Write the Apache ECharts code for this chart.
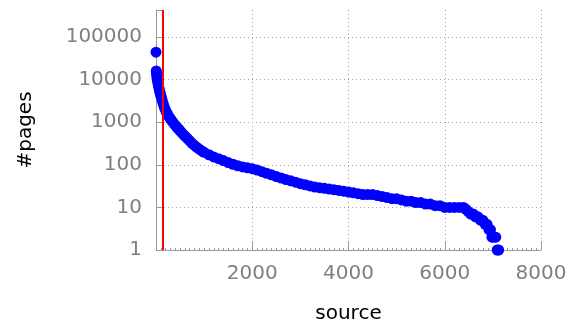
<!DOCTYPE html>
<html>
<head>
<meta charset="utf-8">
<script src="https://cdn.jsdelivr.net/npm/echarts@6/dist/echarts.min.js"></script>
<style>
  html, body { margin: 0; padding: 0; background: #fff; }
  #main { width: 580px; height: 323px; }
</style>
</head>
<body>
<div id="main"></div>
<script>
// source rank (x) and page count (y)
const sources = [
  0, 5, 10, 15, 20, 25, 30, 40, 50, 60, 70, 80, 90, 100, 115, 130, 150, 170, 190, 210,
  230, 250, 275, 300, 325, 350, 380, 410, 440, 470, 500, 540, 580, 620, 660, 700, 750, 800, 850, 900,
  950, 1000, 1100, 1200, 1300, 1400, 1500, 1600, 1700, 1800, 1900, 2000, 2100, 2200, 2300, 2400, 2500, 2600, 2700, 2800,
  2900, 3000, 3100, 3200, 3300, 3400, 3500, 3600, 3700, 3800, 3900, 4000, 4100, 4200, 4300, 4400, 4500, 4600, 4700, 4800,
  4900, 5000, 5100, 5200, 5300, 5400, 5500, 5600, 5700, 5800, 5900, 6000, 6100, 6200, 6300, 6390, 6440, 6490, 6540, 6590,
  6640, 6690, 6740, 6790, 6840, 6880, 6920, 6950, 6980, 7020, 7060, 7090, 7120
];
const pages = [
  44000, 16000, 14500, 13000, 11500, 10200, 9500, 8300, 7300, 6400, 5700, 5100, 4600, 4200, 3700, 3200, 2700, 2300, 2000, 1780,
  1600, 1450, 1310, 1190, 1090, 1000, 900, 820, 750, 690, 630, 560, 500, 450, 405, 365, 320, 285, 255, 232,
  212, 196, 172, 153, 139, 126, 113, 103, 95, 89, 85, 81, 75, 69, 63, 58, 53, 49, 45, 42,
  39, 36, 34, 32, 30, 29, 28, 27, 26, 25, 24, 23, 22, 21, 20, 20, 20, 19, 18, 17,
  16, 16, 15, 14, 14, 13, 13, 12, 12, 11, 11, 10, 10, 10, 10, 10, 9, 8, 7, 7,
  6, 6, 5, 5, 4, 4, 3, 3, 2, 2, 2, 1, 1
];
const xTicks = [0, 2000, 4000, 6000, 8000];
const cutoff = 130; // red marker line

const points = sources.map((s, i) => [s, pages[i]]);

const chart = echarts.init(document.getElementById('main'));
const font = 'DejaVu Sans';
const dotted = { color: '#a8a8a8', type: [1, 3], width: 1 };

chart.setOption({
  animation: false,
  grid: { left: 156, right: 39, top: 10, bottom: 73, outerBoundsMode: 'none', containLabel: false },
  xAxis: {
    type: 'value',
    min: xTicks[0],
    max: xTicks[xTicks.length - 1],
    interval: 2000,
    name: 'source',
    nameLocation: 'middle',
    nameGap: 54,
    nameTextStyle: { fontFamily: font, fontSize: 20, color: '#000' },
    axisLine: { show: true, lineStyle: { color: '#999', width: 1 } },
    axisTick: { show: true, inside: true, length: 9, lineStyle: { color: '#999' } },
    minorTick: { show: true, splitNumber: 20, length: 2, lineStyle: { color: '#999' } },
    axisLabel: {
      fontFamily: font, fontSize: 20, color: '#808080', margin: 14,
      formatter: v => (v === 0 ? '' : String(v))
    },
    splitLine: { show: true, showMinLine: false, lineStyle: dotted }
  },
  yAxis: {
    type: 'log',
    logBase: 10,
    min: 1,
    max: 430000,
    name: '#pages',
    nameLocation: 'middle',
    nameGap: 120,
    nameTextStyle: { fontFamily: font, fontSize: 20, color: '#000' },
    axisLine: { show: true, lineStyle: { color: '#999', width: 1 } },
    axisTick: { show: true, inside: true, length: 6, lineStyle: { color: '#999' } },
    axisLabel: {
      fontFamily: font, fontSize: 20, color: '#808080', margin: 14,
      formatter: v => {
        const e = Math.log10(v);
        return Math.abs(e - Math.round(e)) < 1e-6 ? String(Math.round(v)) : '';
      }
    },
    splitLine: { show: true, showMinLine: false, showMaxLine: false, lineStyle: dotted }
  },
  series: [{
    type: 'scatter',
    data: points,
    symbol: 'circle',
    symbolSize: 11,
    itemStyle: { color: '#0000ff', opacity: 1 },
    markLine: {
      silent: true,
      symbol: 'none',
      label: { show: false },
      lineStyle: { color: '#ff0000', width: 2, type: 'solid' },
      data: [{ xAxis: cutoff }]
    }
  }]
});
</script>
</body>
</html>
